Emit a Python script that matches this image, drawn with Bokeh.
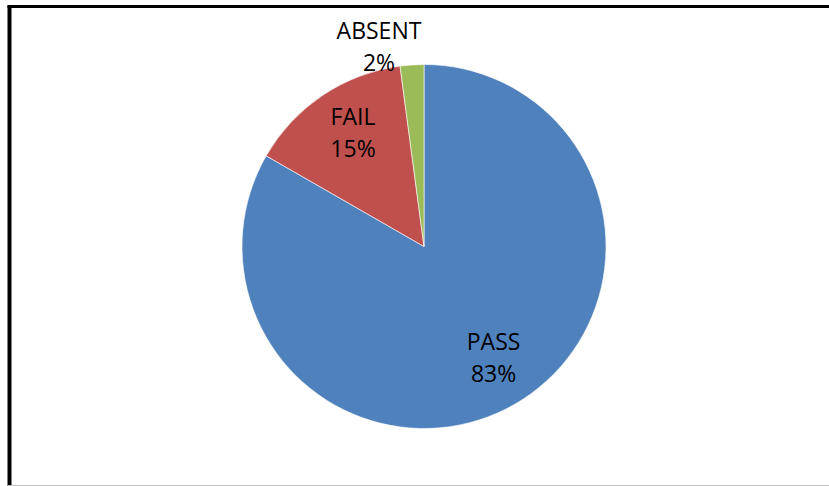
import math
from bokeh.plotting import figure
from bokeh.models import Range1d, ColumnDataSource
from bokeh.core.properties import value
from bokeh.embed import file_html
from bokeh.resources import INLINE

# ---- data ----
categories = ["PASS", "FAIL", "ABSENT"]
shares = [83.3, 14.6, 2.1]          # percent of total
pct_labels = ["83%", "15%", "2%"]
colors = ["#4F81BD", "#C0504D", "#9BBB59"]

W, H = 829, 486
CX, CY = 423.5, H - 246
R = 182

p = figure(width=W, height=H, output_backend="svg", toolbar_location=None,
           x_range=Range1d(0, W), y_range=Range1d(0, H), min_border=0,
           outline_line_color=None, background_fill_color="white")
p.axis.visible = False
p.grid.visible = False

total = sum(shares)
starts, ends, mids = [], [], []
acc = 0.0
for s in shares:
    a0 = math.pi / 2 - 2 * math.pi * acc / total
    acc += s
    a1 = math.pi / 2 - 2 * math.pi * acc / total
    starts.append(a0)
    ends.append(a1)
    mids.append((a0 + a1) / 2)

src = ColumnDataSource(dict(cat=categories, val=shares, start=starts, end=ends, color=colors))
p.wedge(x=CX, y=CY, radius=R, start_angle="start", end_angle="end", direction="clock",
        fill_color="color", line_color="white", line_width=0.6, source=src)

# label anchors: inside for big slices, outside for the small one
lx, ly = [], []
for i, m in enumerate(mids):
    if i < 2:
        r = 0.73 * R
        lx.append(CX + r * math.cos(m) + 3)
        ly.append(CY + r * math.sin(m) + 4)
    else:
        lx.append(CX - 45)
        ly.append(CY + 201)

GAP = 16
FS = "23px"
p.text(x=lx, y=[v + GAP for v in ly], text=categories, text_font=value("Open Sans"),
       text_font_size=FS, text_color="black", text_align="center", text_baseline="middle")
p.text(x=lx, y=[v - GAP for v in ly], text=pct_labels, text_font=value("Open Sans"),
       text_font_size=FS, text_color="black", text_align="center", text_baseline="middle")

# chart frame
p.segment(x0=[7], y0=[H - 6], x1=[W], y1=[H - 6], line_color="black", line_width=3)
p.segment(x0=[9], y0=[H - 5], x1=[9], y1=[0], line_color="black", line_width=4)
p.segment(x0=[7], y0=[0.8], x1=[W], y1=[0.8], line_color="#BFBFBF", line_width=1.5)

open("out.html", "w").write(file_html(p, INLINE))
